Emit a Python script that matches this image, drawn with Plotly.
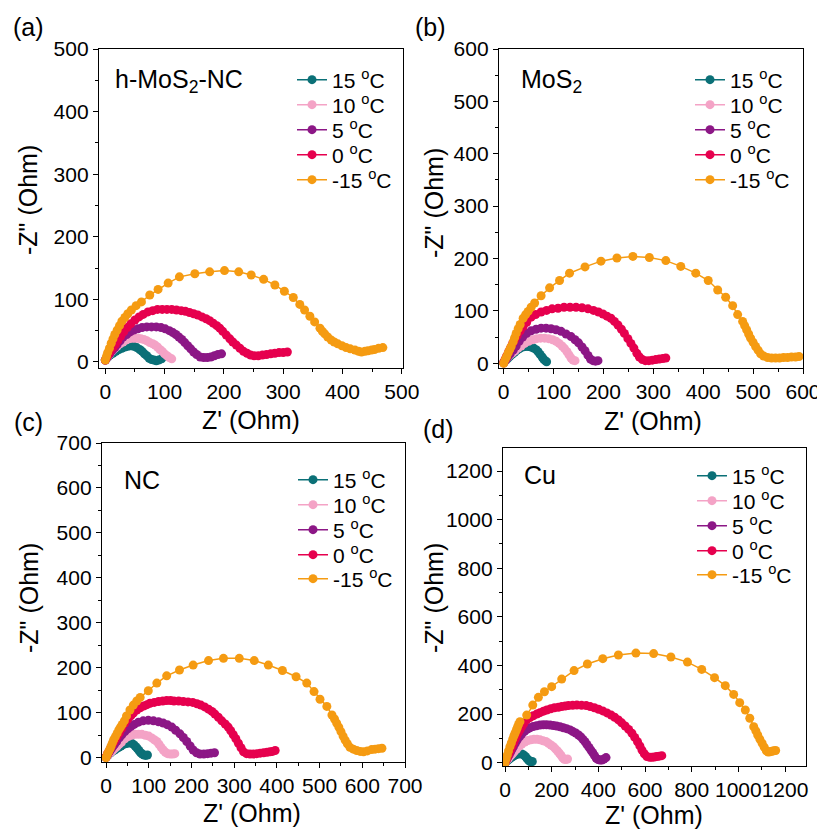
import plotly.graph_objects as go

# page is 825x832; the html body has an 8px margin, so the figure is offset by 8px
OX, OY = 8, 8
W, H = 825 - OX, 832 - OY
FONT = "Liberation Sans, Arial, sans-serif"

labels = ["15 <sup>o</sup>C", "10 <sup>o</sup>C", "5 <sup>o</sup>C", "0 <sup>o</sup>C", "-15 <sup>o</sup>C"]
colors = ["#0b7077", "#f4a3c6", "#8c1786", "#e6004e", "#f59b12"]

# ---------------- (a) h-MoS2-NC ----------------
a15_x = [0, 4, 8, 13, 18, 23, 28, 33, 38, 43, 48, 53, 58, 62, 66, 70, 74, 78, 82, 86, 90, 95]
a15_y = [3, 7, 11, 14, 17, 20, 22, 24, 25, 26, 25, 23, 20, 17, 13, 10, 6, 4, 3, 2, 3, 5]
a10_x = [0, 4, 8, 12, 16, 20, 25, 30, 35, 40, 45, 50, 55, 60, 65, 70, 75, 80, 84, 88, 92, 96, 100, 104, 108, 112]
a10_y = [3, 8, 13, 18, 22, 25, 29, 32, 35, 37, 38, 38, 38, 37, 36, 34, 31, 29, 27, 24, 20, 17, 13, 10, 7, 5]
a5_x = [0, 4, 8, 12, 16, 20, 25, 30, 36, 42, 48, 55, 62, 70, 78, 86, 94, 101, 108, 114, 119, 124, 129, 134,
        139, 144, 149, 154, 160, 166, 172, 178, 184, 190, 196]
a5_y = [3, 9, 14, 19, 23, 28, 34, 40, 44, 48, 51, 53, 55, 56, 56, 56, 55, 53, 50, 47, 44, 40, 36, 31,
        26, 21, 16, 12, 8, 7, 7, 8, 10, 12, 13]
a0_x = [0, 3, 6, 9, 13, 17, 21, 26, 31, 37, 43, 50, 57, 64, 72, 80, 88, 96, 104, 112, 120, 128, 135, 142,
        149, 156, 163, 170, 176, 182, 188, 193, 198, 204, 210, 215, 221, 227, 233, 239, 245, 251, 258, 265,
        272, 279, 286, 293, 300, 307]
a0_y = [3, 8, 13, 18, 23, 28, 34, 41, 48, 55, 61, 67, 72, 76, 80, 82, 84, 84, 84, 84, 83, 82, 81, 79,
        77, 75, 72, 69, 66, 62, 58, 54, 49, 43, 37, 32, 27, 22, 17, 14, 11, 10, 10, 11,
        12, 13, 14, 15, 15, 16]
am15_x = [0, 2, 4, 7, 10, 13, 16, 20, 24, 28, 33, 38, 44, 52, 61, 75, 89, 106, 125, 151, 176, 201, 225, 246,
          267, 286, 302, 317, 328, 336, 345, 353, 362, 366, 370, 375, 381, 386, 392, 399, 406, 413, 421, 427,
          432, 438, 443, 449, 454, 461, 468]
am15_y = [3, 9, 15, 22, 30, 37, 44, 51, 58, 65, 71, 77, 83, 90, 96, 107, 116, 126, 136, 141, 144, 146, 144, 139,
          132, 123, 113, 103, 92, 83, 73, 64, 54, 49, 45, 40, 35, 32, 29, 26, 23, 21, 19, 17,
          16, 17, 18, 19, 20, 22, 23]

# ---------------- (b) MoS2 ----------------
b15_x = [0, 4, 8, 12, 17, 22, 27, 32, 38, 44, 50, 55, 60, 65, 69, 73, 77, 80, 83, 86]
b15_y = [1, 5, 9, 13, 17, 21, 25, 28, 31, 32, 32, 31, 29, 26, 22, 17, 12, 8, 5, 3]
b10_x = [0, 4, 8, 13, 18, 23, 29, 35, 42, 50, 58, 66, 74, 82, 90, 98, 105, 111, 117, 122, 127, 131, 135, 139, 143]
b10_y = [1, 6, 11, 16, 20, 24, 29, 33, 38, 42, 45, 47, 48, 48, 47, 45, 42, 38, 33, 28, 22, 16, 10, 6, 5]
b5_x = [0, 4, 8, 13, 19, 25, 31, 38, 46, 55, 65, 75, 85, 95, 105, 115, 125, 135, 143, 150, 157, 163, 169,
        174, 179, 184, 189]
b5_y = [1, 6, 12, 18, 25, 33, 42, 50, 57, 62, 65, 67, 67, 66, 64, 61, 56, 51, 45, 39, 31, 24, 15,
        8, 5, 4, 5]
b0_x = [0, 3, 6, 10, 14, 18, 22, 27, 33, 39, 46, 55, 64, 75, 86, 97, 109, 121, 133, 145, 157, 169, 180, 190,
        199, 207, 215, 222, 229, 236, 242, 249, 255, 261, 267, 272, 278, 284, 291, 298, 305, 312, 319, 325]
b0_y = [1, 8, 14, 22, 30, 38, 45, 53, 62, 70, 78, 88, 93, 98, 101, 104, 105, 107, 107, 107, 106, 104, 101, 98,
        94, 90, 86, 80, 73, 65, 57, 47, 38, 29, 19, 12, 7, 5, 5, 6, 7, 8, 9, 10]
bm15_x = [0, 3, 6, 9, 12, 15, 19, 22, 25, 29, 33, 39, 44, 49, 55, 62, 75, 92, 112, 132, 163, 195, 227, 259,
          292, 325, 355, 385, 410, 429, 445, 459, 469, 479, 483, 487, 491, 495, 500, 505, 510, 515, 521,
          529, 537, 545, 553, 561, 569, 577, 585, 592]
bm15_y = [0, 7, 13, 20, 26, 32, 41, 49, 57, 66, 74, 86, 93, 99, 107, 115, 129, 144, 158, 172, 184, 195, 201, 204,
          202, 196, 185, 172, 158, 140, 126, 110, 93, 80, 72, 64, 56, 48, 40, 32, 25, 18, 14,
          11, 10, 10, 10, 11, 11, 12, 12, 13]

# ---------------- (c) NC ----------------
c15_x = [0, 5, 10, 15, 20, 25, 30, 35, 40, 45, 50, 55, 60, 65, 69, 73, 77, 81, 85, 89, 93, 97]
c15_y = [1, 6, 10, 14, 17, 20, 23, 26, 29, 31, 32, 33, 32, 29, 25, 21, 16, 11, 8, 6, 5, 6]
c10_x = [0, 5, 10, 15, 20, 25, 30, 36, 44, 52, 60, 68, 76, 84, 92, 100, 107, 113, 119, 124, 129, 134, 139,
         144, 150, 156, 161]
c10_y = [1, 6, 11, 15, 20, 24, 29, 34, 42, 47, 50, 52, 52, 52, 50, 48, 44, 40, 36, 30, 23, 17, 12,
         9, 8, 8, 9]
c5_x = [0, 4, 8, 12, 16, 20, 25, 31, 37, 44, 51, 58, 66, 76, 87, 99, 111, 123, 134, 144, 154, 163, 173, 181,
        189, 197, 204, 212, 220, 229, 238, 246, 254]
c5_y = [1, 7, 13, 19, 25, 30, 36, 44, 51, 58, 64, 69, 74, 79, 82, 83, 82, 80, 77, 73, 68, 61, 53, 45,
        36, 26, 17, 11, 8, 8, 9, 10, 11]
c0_x = [0, 3, 6, 10, 14, 18, 22, 26, 31, 37, 44, 51, 58, 64, 72, 80, 88, 96, 103, 113, 123, 133, 142, 151,
        159, 170, 181, 192, 203, 213, 222, 231, 240, 248, 255, 263, 271, 279, 286, 292, 298, 304, 310, 316,
        322, 329, 337, 345, 353, 361, 369, 377, 384, 390, 396]
c0_y = [1, 7, 13, 20, 27, 34, 41, 47, 55, 65, 77, 86, 93, 99, 106, 111, 115, 118, 121, 123, 125, 126, 127, 127,
        126, 126, 125, 124, 123, 120, 117, 113, 108, 103, 97, 90, 82, 75, 68, 60, 51, 42, 32, 22,
        13, 9, 8, 8, 9, 10, 11, 12, 13, 14, 16]
cm15_x = [0, 3, 6, 9, 12, 15, 18, 22, 26, 30, 34, 38, 43, 48, 56, 64, 72, 80, 99, 119, 142, 172, 204, 240,
          275, 312, 347, 380, 413, 445, 470, 487, 501, 517, 529, 535, 540, 545, 550, 555, 560, 565, 571,
          579, 587, 595, 603, 612, 622, 630, 638, 646]
cm15_y = [0, 7, 13, 19, 26, 33, 40, 47, 54, 62, 68, 74, 82, 93, 106, 117, 126, 134, 149, 166, 182, 195, 206, 216,
          221, 221, 216, 206, 194, 180, 166, 147, 130, 114, 95, 86, 77, 68, 58, 48, 39, 31, 23,
          19, 16, 14, 13, 15, 18, 19, 20, 21]

# ---------------- (d) Cu ----------------
d15_x = [0, 8, 16, 24, 32, 40, 48, 56, 64, 72, 80, 87, 93, 99, 105, 111, 117]
d15_y = [1, 7, 13, 19, 24, 29, 33, 36, 37, 36, 32, 26, 19, 12, 7, 4, 5]
d10_x = [0, 8, 16, 24, 32, 40, 50, 60, 72, 85, 98, 111, 124, 137, 150, 163, 175, 186, 197, 207, 216, 225,
         233, 240, 247, 254, 261, 268]
d10_y = [1, 10, 19, 28, 37, 46, 56, 66, 77, 85, 91, 94, 96, 96, 94, 90, 87, 80, 73, 66, 57, 48,
         39, 30, 20, 14, 13, 15]
d5_x = [0, 6, 12, 18, 24, 30, 36, 44, 52, 62, 72, 84, 96, 107, 121, 135, 150, 164, 178, 193, 207, 221, 236,
        250, 264, 279, 291, 303, 315, 325, 334, 343, 351, 360, 368, 376, 384, 391, 399, 407, 415, 424, 433]
d5_y = [1, 11, 22, 33, 44, 55, 66, 80, 93, 106, 118, 129, 138, 144, 149, 152, 155, 156, 156, 155, 153, 151, 148,
        144, 140, 135, 128, 122, 114, 106, 96, 86, 75, 63, 52, 41, 29, 18, 13, 11, 11, 15, 21]
d0_x = [0, 6, 12, 18, 24, 30, 36, 43, 50, 57, 64, 72, 80, 93, 107, 121, 136, 150, 165, 179, 196, 212, 229, 243,
        258, 272, 290, 308, 328, 348, 365, 383, 401, 419, 437, 455, 470, 486, 500, 515, 530, 544, 556, 568,
        578, 587, 597, 608, 620, 630, 640, 650, 661, 672]
d0_y = [1, 13, 26, 40, 53, 67, 80, 96, 110, 123, 135, 148, 160, 176, 186, 193, 200, 206, 212, 217, 222, 226, 228, 231,
        233, 235, 236, 237, 236, 235, 231, 226, 220, 213, 205, 196, 187, 176, 164, 151, 137, 121, 104, 86,
        69, 52, 37, 25, 22, 22, 23, 25, 27, 29]
dm15_x = [0, 5, 10, 15, 21, 27, 33, 38, 43, 48, 53, 58, 64, 93, 119, 143, 169, 200, 243, 296, 353, 419, 486, 561,
          637, 711, 782, 843, 898, 944, 980, 1006, 1030, 1049, 1066, 1075, 1083, 1092, 1102, 1111, 1120, 1128,
          1136, 1144, 1152, 1160]
dm15_y = [0, 16, 32, 48, 66, 81, 97, 110, 121, 133, 145, 157, 169, 196, 237, 269, 292, 313, 344, 379, 406, 428, 443, 451,
          449, 435, 414, 384, 350, 317, 281, 247, 217, 183, 148, 131, 114, 97, 80, 64, 49, 44,
          45, 47, 49, 50]

series = {
    "a": [(a15_x, a15_y), (a10_x, a10_y), (a5_x, a5_y), (a0_x, a0_y), (am15_x, am15_y)],
    "b": [(b15_x, b15_y), (b10_x, b10_y), (b5_x, b5_y), (b0_x, b0_y), (bm15_x, bm15_y)],
    "c": [(c15_x, c15_y), (c10_x, c10_y), (c5_x, c5_y), (c0_x, c0_y), (cm15_x, cm15_y)],
    "d": [(d15_x, d15_y), (d10_x, d10_y), (d5_x, d5_y), (d0_x, d0_y), (dm15_x, dm15_y)],
}
names = {"a": "h-MoS<sub>2</sub>-NC", "b": "MoS<sub>2</sub>", "c": "NC", "d": "Cu"}
x_title = "Z' (Ohm)"
y_title = '-Z" (Ohm)'

# layout in page pixels: frame (left, right, top, bottom), axis ranges, ticks, text positions
panels = [
    dict(key="a", frame=(99, 403, 49, 368), xr=[-10.6, 502], yr=[-9.6, 500], dt=100, mdt=50,
         leg_x=297, leg_y=[80, 105, 130, 155, 180], tag=(28, 27), name_xy=(113, 81),
         xt=(251, 420), yt=(28, 200)),
    dict(key="b", frame=(499, 803, 49, 368), xr=[-9.4, 600], yr=[-9, 600], dt=100, mdt=50,
         leg_x=695, leg_y=[80, 105, 130, 155, 180], tag=(430, 27), name_xy=(519, 81),
         xt=(653, 421), yt=(434, 203)),
    dict(key="c", frame=(102, 405, 443, 762), xr=[-9.4, 700], yr=[-9.6, 700], dt=100, mdt=50,
         leg_x=298, leg_y=[480, 505, 530, 555, 579], tag=(28, 422), name_xy=(122, 480),
         xt=(252, 813), yt=(29, 598)),
    dict(key="d", frame=(503, 806, 448, 766), xr=[-8.6, 1290], yr=[-13.6, 1295], dt=200, mdt=100,
         leg_x=697, leg_y=[476, 501, 526, 551, 575], tag=(438, 429), name_xy=(522, 475),
         xt=(654, 815), yt=(434, 598)),
]


def fx(px):
    return (px - OX) / W


def fy(py):
    return 1 - (py - OY) / H


fig = go.Figure()
layout = dict(width=W, height=H, margin=dict(l=0, r=0, t=0, b=0, autoexpand=False),
              paper_bgcolor="white", plot_bgcolor="white",
              font=dict(family=FONT, color="black"), showlegend=True)
annotations = []
leg_n = 0
for pi, p in enumerate(panels):
    sfx = "" if pi == 0 else str(pi + 1)
    l, r, t, b = p["frame"]
    axis_common = dict(showline=True, linecolor="black", linewidth=1.3, mirror=True,
                       ticks="outside", ticklen=5, tickwidth=1.2, tickcolor="black",
                       showgrid=False, zeroline=False, tick0=0, dtick=p["dt"], tickangle=0,
                       automargin=False,
                       tickfont=dict(size=21, family=FONT, color="black"),
                       minor=dict(ticks="outside", ticklen=3, tickwidth=1.2, tickcolor="black",
                                  dtick=p["mdt"], tick0=0, showgrid=False))
    layout["xaxis" + sfx] = dict(axis_common, domain=[fx(l), fx(r)], range=p["xr"], anchor="y" + sfx)
    layout["yaxis" + sfx] = dict(axis_common, domain=[fy(b), fy(t)], range=p["yr"], anchor="x" + sfx)
    for si, (xs, ys) in enumerate(series[p["key"]]):
        leg_n += 1
        lname = "legend" if leg_n == 1 else "legend%d" % leg_n
        fig.add_trace(go.Scatter(x=xs, y=ys, mode="lines+markers", name=labels[si],
                                 marker=dict(size=9, color=colors[si]),
                                 line=dict(color=colors[si], width=1.5),
                                 xaxis="x" + sfx, yaxis="y" + sfx, legend=lname,
                                 hoverinfo="x+y"))
        layout[lname] = dict(x=fx(p["leg_x"] - 5), y=fy(p["leg_y"][si]),
                             xref="container", yref="container",
                             xanchor="left", yanchor="middle", bgcolor="rgba(0,0,0,0)",
                             borderwidth=0, font=dict(size=21, family=FONT, color="black"))
    annotations.append(dict(text="(%s)" % p["key"], x=fx(p["tag"][0]), y=fy(p["tag"][1]),
                            xref="paper", yref="paper", showarrow=False,
                            xanchor="center", yanchor="middle", font=dict(size=25, family=FONT)))
    annotations.append(dict(text=names[p["key"]], x=fx(p["name_xy"][0]), y=fy(p["name_xy"][1]),
                            xref="paper", yref="paper", showarrow=False,
                            xanchor="left", yanchor="middle", font=dict(size=25, family=FONT)))
    annotations.append(dict(text=x_title, x=fx(p["xt"][0]), y=fy(p["xt"][1]),
                            xref="paper", yref="paper", showarrow=False,
                            xanchor="center", yanchor="middle", font=dict(size=25, family=FONT)))
    annotations.append(dict(text=y_title, x=fx(p["yt"][0]), y=fy(p["yt"][1]), textangle=-90,
                            xref="paper", yref="paper", showarrow=False,
                            xanchor="center", yanchor="middle", font=dict(size=25, family=FONT)))

layout["annotations"] = annotations
fig.update_layout(**layout)
fig.write_html("out.html")
